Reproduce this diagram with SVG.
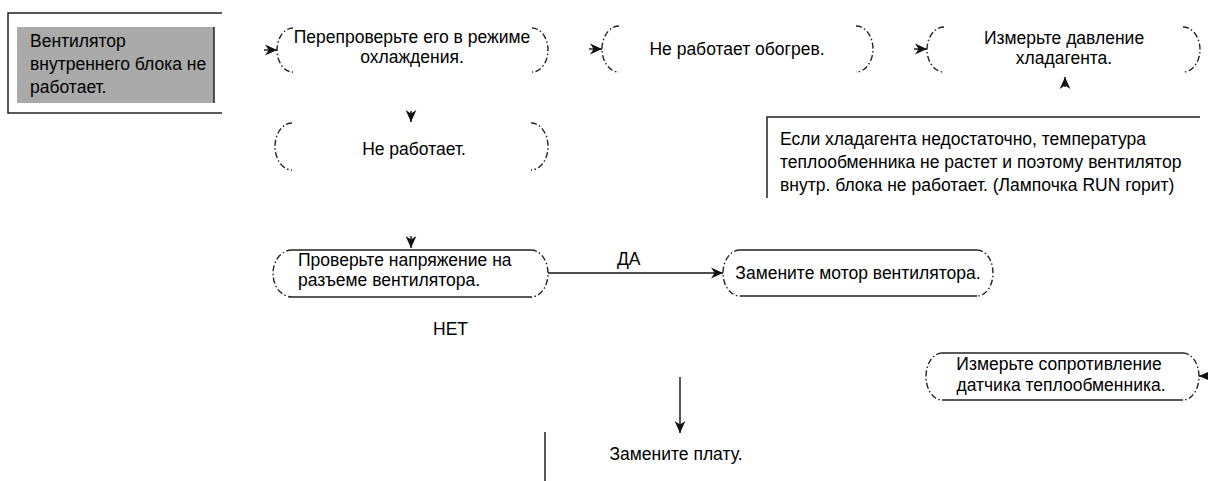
<svg xmlns="http://www.w3.org/2000/svg" width="1208" height="481" viewBox="0 0 1208 481">
<style>
text{font-family:"Liberation Sans",Arial,sans-serif;font-size:17.5px;fill:#000}
.c{text-anchor:middle}
.arc{fill:none;stroke:#222;stroke-width:1.4;stroke-dasharray:6 2.5 1.5 2.5}
.ln{fill:none;stroke:#222;stroke-width:1.5}
.con{fill:none;stroke:#111;stroke-width:1.4}
</style>
<defs>
<marker id="arr" viewBox="0 0 10 10" refX="10" refY="5" markerWidth="12" markerHeight="12" markerUnits="userSpaceOnUse" orient="auto">
<path d="M0,0.5 L10,5 L0,9.5 L3,5 z" fill="#111"/>
</marker>
</defs>
<rect width="1208" height="481" fill="#fff"/>

<g id="start">
<path class="ln" d="M222 13 H8 V113 H222"/>
<rect x="17" y="27" width="197" height="76" fill="#aaaaaa"/>
<path class="ln" d="M214 27 V103"/>
<text x="30" y="47">Вентилятор</text>
<text x="30" y="70">внутреннего блока не</text>
<text x="30" y="93">работает.</text>
</g>

<g id="n-recheck">
<path class="arc" d="M293 28 A16 22 0 0 0 293 72"/>
<path class="arc" d="M532 28 A16 22 0 0 1 532 72"/>
<text class="c" x="412" y="43">Перепроверьте его в режиме</text>
<text class="c" x="412" y="63">охлаждения.</text>
</g>

<g id="n-noheat">
<path class="arc" d="M619 26 A17 23 0 0 0 619 72"/>
<path class="arc" d="M856 26 A17 23 0 0 1 856 72"/>
<text class="c" x="737" y="55">Не работает обогрев.</text>
</g>

<g id="n-pressure">
<path class="arc" d="M944 27 A17 22.5 0 0 0 944 72"/>
<path class="arc" d="M1183 27 A17 22.5 0 0 1 1183 72"/>
<text class="c" x="1064" y="44">Измерьте давление</text>
<text class="c" x="1064" y="64">хладагента.</text>
</g>

<g id="n-notwork">
<path class="arc" d="M292 123 A17 23.5 0 0 0 292 170"/>
<path class="arc" d="M531 123 A17 23.5 0 0 1 531 170"/>
<text class="c" x="414" y="155">Не работает.</text>
</g>

<g id="note">
<path class="ln" d="M767 198 V117 H1200"/>
<text x="780" y="145">Если хладагента недостаточно, температура</text>
<text x="780" y="168">теплообменника не растет и поэтому вентилятор</text>
<text x="780" y="191">внутр. блока не работает. (Лампочка RUN горит)</text>
</g>

<g id="n-voltage">
<path class="arc" d="M292 250 A19 23.5 0 0 0 292 297"/>
<path class="arc" d="M531 250 A17 23.5 0 0 1 531 297"/>
<path class="ln" d="M292 250 H531 M292 297 H531"/>
<text x="298" y="266">Проверьте напряжение на</text>
<text x="298" y="286">разъеме вентилятора.</text>
</g>

<g id="n-motor">
<path class="arc" d="M740 250 A17 23 0 0 0 740 296"/>
<path class="arc" d="M977 250 A16 23 0 0 1 977 296"/>
<path class="ln" d="M740 250 H977 M740 296 H977"/>
<text class="c" x="858" y="279">Замените мотор вентилятора.</text>
</g>

<g id="n-sensor">
<path class="arc" d="M942 353 A16 23.5 0 0 0 942 400"/>
<path class="arc" d="M1183 353 A16 23.5 0 0 1 1183 400"/>
<path class="ln" d="M942 353 H1183 M942 400 H1183"/>
<text class="c" x="1059" y="370">Измерьте сопротивление</text>
<text class="c" x="1061" y="391">датчика теплообменника.</text>
</g>

<g id="n-board">
<text class="c" x="676" y="460">Замените плату.</text>
</g>

<g id="connectors">
<path class="con" d="M264 50 H277" marker-end="url(#arr)"/>
<path class="con" d="M589 49 H602" marker-end="url(#arr)"/>
<path class="con" d="M914 49 H927" marker-end="url(#arr)"/>
<path class="con" d="M1065 87 V77" marker-end="url(#arr)"/>
<path class="con" d="M411 111 V122" marker-end="url(#arr)"/>
<path class="con" d="M411 236 V248" marker-end="url(#arr)"/>
<path class="con" d="M548 273 H723" marker-end="url(#arr)"/>
<path class="con" d="M1208 376 H1199" marker-end="url(#arr)"/>
<path class="con" d="M680 377 V433" marker-end="url(#arr)"/>
<path class="con" d="M545 432 V481"/>
<text x="617" y="265">ДА</text>
<text x="433" y="335">НЕТ</text>
</g>
</svg>
